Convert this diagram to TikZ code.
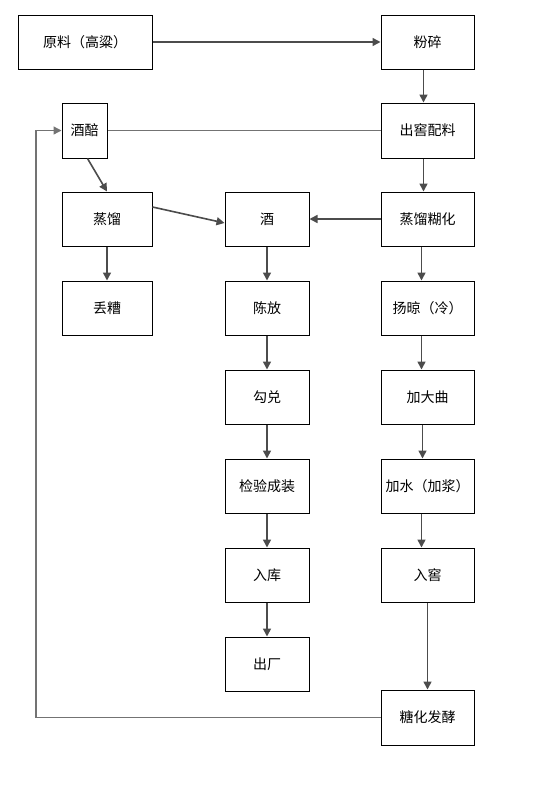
\documentclass[tikz,border=0pt]{standalone}
\usepackage{fontspec}
\setmainfont{Noto Sans CJK SC}
\usetikzlibrary{arrows.meta}
\begin{document}
\begin{tikzpicture}[x=1pt,y=-1pt,
    box/.style={draw,line width=1pt,minimum height=54pt,minimum width=93pt,inner sep=0pt,font=\fontsize{14}{16}\selectfont},
    flow/.style={draw=black!70,line width=1.6pt,-{Triangle[width=8pt,length=8pt]}},
    link/.style={draw=black!55,line width=1.3pt}]
    \useasboundingbox(0,0)rectangle(533,785);
    \node[box,minimum width=134pt](1)at(85,42){原料（高粱）};
    \node[box](2)at(427.5,42){粉碎};
    \node[box,minimum width=45pt,minimum height=55pt](3)at(84.5,130.5){酒醅};
    \node[box,minimum height=55pt](4)at(427.5,130.5){出窖配料};
    \node[box,minimum width=90pt](5)at(107,219){蒸馏};
    \node[box,minimum width=84pt](6)at(267,219){酒};
    \node[box](7)at(427.5,219){蒸馏糊化};
    \node[box,minimum width=90pt](8)at(107,308){丢糟};
    \node[box,minimum width=84pt](9)at(267,308){陈放};
    \node[box](10)at(427.5,308){扬晾（冷）};
    \node[box,minimum width=84pt](11)at(267,397){勾兑};
    \node[box](12)at(427.5,397){加大曲};
    \node[box,minimum width=84pt](13)at(267,486){检验成装};
    \node[box](14)at(427.5,486){加水（加浆）};
    \node[box,minimum width=84pt](15)at(267,575){入库};
    \node[box](16)at(427.5,575){入窖};
    \node[box,minimum width=84pt](17)at(267,664){出厂};
    \node[box,minimum height=55pt](18)at(427.5,717.5){糖化发酵};
    \coordinate(c)at(36,717.5);
    \draw[flow](1)--(2);
    \draw[flow]([xshift=-4pt]2.south)--([xshift=-4pt]4.north);
    \draw[link](4.west)--(3.east);
    \draw[flow]([xshift=3pt]3.south)--(5.north);
    \draw[flow]([xshift=-4pt]4.south)--([xshift=-4pt]7.north);
    \draw[flow](7)--(6);
    \draw[flow]([yshift=12pt]5.east)--([yshift=-4pt]6.west);
    \draw[flow](5)--(8);
    \draw[flow](6)--(9);
    \draw[flow](9)--(11);
    \draw[flow](11)--(13);
    \draw[flow](13)--(15);
    \draw[flow](15)--(17);
    \draw[flow]([xshift=-6pt]7.south)--([xshift=-6pt]10.north);
    \draw[flow]([xshift=-6pt]10.south)--([xshift=-6pt]12.north);
    \draw[flow]([xshift=-5pt]12.south)--([xshift=-5pt]14.north);
    \draw[flow]([xshift=-6pt]14.south)--([xshift=-6pt]16.north);
    \draw[flow](16.south)--(18.north);
    \draw[link,-{Triangle[width=8pt,length=8pt]}](18.west)--(c)|-(3.west);
\end{tikzpicture}
\end{document}
